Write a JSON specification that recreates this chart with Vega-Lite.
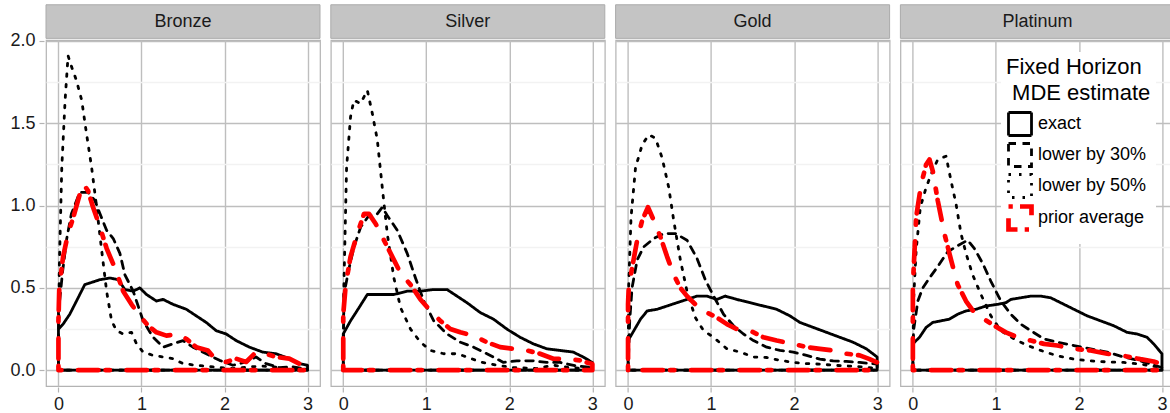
{
"$schema": "https://vega.github.io/schema/vega-lite/v6.json",
"padding": {"left": 9, "top": 3, "right": 0, "bottom": 0},
"autosize": {"type": "pad"},
"config": {
  "font": "Liberation Sans",
  "view": {"stroke": "#b3b3b3", "strokeWidth": 1.2},
  "axis": {"domain": false, "labelFontSize": 18, "labelColor": "#1a1a1a", "tickColor": "#b3b3b3", "tickSize": 5, "tickWidth": 1.2, "gridWidth": 1.4, "labelFont": "Liberation Sans"},
  "legend": {"orient": "none", "legendX": 955, "legendY": 12, "symbolType": "square", "symbolSize": 529, "labelFontSize": 18, "titleFontSize": 22, "titleFontWeight": "normal", "titleLineHeight": 26, "fillColor": "white", "padding": 5, "rowPadding": -10, "labelOffset": 4, "titleColor": "#000", "labelColor": "#000", "titlePadding": 6, "titleLimit": 300, "labelLimit": 300}
},
"data": {"values": [
{"p":"Bronze","s":"exact","i":0,"x":0,"y":0},{"p":"Bronze","s":"exact","i":1,"x":0,"y":0.25},{"p":"Bronze","s":"exact","i":2,"x":0.056,"y":0.28},{"p":"Bronze","s":"exact","i":3,"x":0.136,"y":0.34},{"p":"Bronze","s":"exact","i":4,"x":0.217,"y":0.42},{"p":"Bronze","s":"exact","i":5,"x":0.317,"y":0.52},{"p":"Bronze","s":"exact","i":6,"x":0.38,"y":0.53},{"p":"Bronze","s":"exact","i":7,"x":0.5,"y":0.55},{"p":"Bronze","s":"exact","i":8,"x":0.62,"y":0.56},{"p":"Bronze","s":"exact","i":9,"x":0.72,"y":0.55},{"p":"Bronze","s":"exact","i":10,"x":0.8,"y":0.49},{"p":"Bronze","s":"exact","i":11,"x":0.9,"y":0.48},{"p":"Bronze","s":"exact","i":12,"x":0.98,"y":0.5},{"p":"Bronze","s":"exact","i":13,"x":1.06,"y":0.46},{"p":"Bronze","s":"exact","i":14,"x":1.18,"y":0.42},{"p":"Bronze","s":"exact","i":15,"x":1.26,"y":0.43},{"p":"Bronze","s":"exact","i":16,"x":1.38,"y":0.4},{"p":"Bronze","s":"exact","i":17,"x":1.54,"y":0.37},{"p":"Bronze","s":"exact","i":18,"x":1.66,"y":0.33},{"p":"Bronze","s":"exact","i":19,"x":1.78,"y":0.29},{"p":"Bronze","s":"exact","i":20,"x":1.9,"y":0.24},{"p":"Bronze","s":"exact","i":21,"x":2.02,"y":0.22},{"p":"Bronze","s":"exact","i":22,"x":2.14,"y":0.18},{"p":"Bronze","s":"exact","i":23,"x":2.3,"y":0.14},{"p":"Bronze","s":"exact","i":24,"x":2.46,"y":0.11},{"p":"Bronze","s":"exact","i":25,"x":2.62,"y":0.1},{"p":"Bronze","s":"exact","i":26,"x":2.78,"y":0.07},{"p":"Bronze","s":"exact","i":27,"x":2.9,"y":0.04},{"p":"Bronze","s":"exact","i":28,"x":3,"y":0.03},{"p":"Bronze","s":"exact","i":29,"x":3,"y":0},{"p":"Bronze","s":"exact","i":30,"x":0,"y":0},
{"p":"Bronze","s":"lower by 30%","i":0,"x":0,"y":0},{"p":"Bronze","s":"lower by 30%","i":1,"x":0,"y":0.35},{"p":"Bronze","s":"lower by 30%","i":2,"x":0.05,"y":0.6},{"p":"Bronze","s":"lower by 30%","i":3,"x":0.1,"y":0.8},{"p":"Bronze","s":"lower by 30%","i":4,"x":0.156,"y":0.95},{"p":"Bronze","s":"lower by 30%","i":5,"x":0.257,"y":1.08},{"p":"Bronze","s":"lower by 30%","i":6,"x":0.357,"y":1.08},{"p":"Bronze","s":"lower by 30%","i":7,"x":0.44,"y":1.03},{"p":"Bronze","s":"lower by 30%","i":8,"x":0.5,"y":0.95},{"p":"Bronze","s":"lower by 30%","i":9,"x":0.58,"y":0.85},{"p":"Bronze","s":"lower by 30%","i":10,"x":0.66,"y":0.8},{"p":"Bronze","s":"lower by 30%","i":11,"x":0.74,"y":0.71},{"p":"Bronze","s":"lower by 30%","i":12,"x":0.8,"y":0.58},{"p":"Bronze","s":"lower by 30%","i":13,"x":0.9,"y":0.48},{"p":"Bronze","s":"lower by 30%","i":14,"x":1.02,"y":0.3},{"p":"Bronze","s":"lower by 30%","i":15,"x":1.14,"y":0.2},{"p":"Bronze","s":"lower by 30%","i":16,"x":1.26,"y":0.14},{"p":"Bronze","s":"lower by 30%","i":17,"x":1.38,"y":0.16},{"p":"Bronze","s":"lower by 30%","i":18,"x":1.5,"y":0.18},{"p":"Bronze","s":"lower by 30%","i":19,"x":1.62,"y":0.14},{"p":"Bronze","s":"lower by 30%","i":20,"x":1.78,"y":0.1},{"p":"Bronze","s":"lower by 30%","i":21,"x":1.94,"y":0.06},{"p":"Bronze","s":"lower by 30%","i":22,"x":2.1,"y":0.03},{"p":"Bronze","s":"lower by 30%","i":23,"x":2.26,"y":0.05},{"p":"Bronze","s":"lower by 30%","i":24,"x":2.38,"y":0.08},{"p":"Bronze","s":"lower by 30%","i":25,"x":2.5,"y":0.04},{"p":"Bronze","s":"lower by 30%","i":26,"x":2.66,"y":0.016},{"p":"Bronze","s":"lower by 30%","i":27,"x":2.82,"y":0.02},{"p":"Bronze","s":"lower by 30%","i":28,"x":3,"y":0.006},{"p":"Bronze","s":"lower by 30%","i":29,"x":3,"y":0},{"p":"Bronze","s":"lower by 30%","i":30,"x":0,"y":0},
{"p":"Bronze","s":"lower by 50%","i":0,"x":0,"y":0},{"p":"Bronze","s":"lower by 50%","i":1,"x":0.01,"y":0.62},{"p":"Bronze","s":"lower by 50%","i":2,"x":0.04,"y":1.23},{"p":"Bronze","s":"lower by 50%","i":3,"x":0.08,"y":1.64},{"p":"Bronze","s":"lower by 50%","i":4,"x":0.116,"y":1.91},{"p":"Bronze","s":"lower by 50%","i":5,"x":0.16,"y":1.84},{"p":"Bronze","s":"lower by 50%","i":6,"x":0.217,"y":1.76},{"p":"Bronze","s":"lower by 50%","i":7,"x":0.28,"y":1.64},{"p":"Bronze","s":"lower by 50%","i":8,"x":0.337,"y":1.44},{"p":"Bronze","s":"lower by 50%","i":9,"x":0.4,"y":1.23},{"p":"Bronze","s":"lower by 50%","i":10,"x":0.46,"y":0.99},{"p":"Bronze","s":"lower by 50%","i":11,"x":0.52,"y":0.73},{"p":"Bronze","s":"lower by 50%","i":12,"x":0.58,"y":0.48},{"p":"Bronze","s":"lower by 50%","i":13,"x":0.64,"y":0.3},{"p":"Bronze","s":"lower by 50%","i":14,"x":0.7,"y":0.24},{"p":"Bronze","s":"lower by 50%","i":15,"x":0.78,"y":0.22},{"p":"Bronze","s":"lower by 50%","i":16,"x":0.88,"y":0.23},{"p":"Bronze","s":"lower by 50%","i":17,"x":0.94,"y":0.16},{"p":"Bronze","s":"lower by 50%","i":18,"x":1.02,"y":0.11},{"p":"Bronze","s":"lower by 50%","i":19,"x":1.14,"y":0.09},{"p":"Bronze","s":"lower by 50%","i":20,"x":1.26,"y":0.08},{"p":"Bronze","s":"lower by 50%","i":21,"x":1.38,"y":0.07},{"p":"Bronze","s":"lower by 50%","i":22,"x":1.5,"y":0.04},{"p":"Bronze","s":"lower by 50%","i":23,"x":1.66,"y":0.03},{"p":"Bronze","s":"lower by 50%","i":24,"x":1.86,"y":0.02},{"p":"Bronze","s":"lower by 50%","i":25,"x":2.1,"y":0.01},{"p":"Bronze","s":"lower by 50%","i":26,"x":2.3,"y":0.02},{"p":"Bronze","s":"lower by 50%","i":27,"x":2.45,"y":0.025},{"p":"Bronze","s":"lower by 50%","i":28,"x":2.7,"y":0.016},{"p":"Bronze","s":"lower by 50%","i":29,"x":3,"y":0.005},{"p":"Bronze","s":"lower by 50%","i":30,"x":3,"y":0},{"p":"Bronze","s":"lower by 50%","i":31,"x":0,"y":0},
{"p":"Bronze","s":"prior average","i":0,"x":0,"y":0},{"p":"Bronze","s":"prior average","i":1,"x":0,"y":0.3},{"p":"Bronze","s":"prior average","i":2,"x":0.01,"y":0.5},{"p":"Bronze","s":"prior average","i":3,"x":0.056,"y":0.69},{"p":"Bronze","s":"prior average","i":4,"x":0.116,"y":0.83},{"p":"Bronze","s":"prior average","i":5,"x":0.18,"y":0.93},{"p":"Bronze","s":"prior average","i":6,"x":0.257,"y":1.07},{"p":"Bronze","s":"prior average","i":7,"x":0.3,"y":1.13},{"p":"Bronze","s":"prior average","i":8,"x":0.357,"y":1.09},{"p":"Bronze","s":"prior average","i":9,"x":0.417,"y":0.99},{"p":"Bronze","s":"prior average","i":10,"x":0.5,"y":0.87},{"p":"Bronze","s":"prior average","i":11,"x":0.58,"y":0.74},{"p":"Bronze","s":"prior average","i":12,"x":0.68,"y":0.62},{"p":"Bronze","s":"prior average","i":13,"x":0.78,"y":0.48},{"p":"Bronze","s":"prior average","i":14,"x":0.88,"y":0.4},{"p":"Bronze","s":"prior average","i":15,"x":0.98,"y":0.33},{"p":"Bronze","s":"prior average","i":16,"x":1.08,"y":0.27},{"p":"Bronze","s":"prior average","i":17,"x":1.18,"y":0.23},{"p":"Bronze","s":"prior average","i":18,"x":1.3,"y":0.21},{"p":"Bronze","s":"prior average","i":19,"x":1.44,"y":0.22},{"p":"Bronze","s":"prior average","i":20,"x":1.54,"y":0.19},{"p":"Bronze","s":"prior average","i":21,"x":1.66,"y":0.14},{"p":"Bronze","s":"prior average","i":22,"x":1.8,"y":0.12},{"p":"Bronze","s":"prior average","i":23,"x":1.9,"y":0.06},{"p":"Bronze","s":"prior average","i":24,"x":2.02,"y":0.05},{"p":"Bronze","s":"prior average","i":25,"x":2.14,"y":0.07},{"p":"Bronze","s":"prior average","i":26,"x":2.26,"y":0.05},{"p":"Bronze","s":"prior average","i":27,"x":2.38,"y":0.11},{"p":"Bronze","s":"prior average","i":28,"x":2.5,"y":0.1},{"p":"Bronze","s":"prior average","i":29,"x":2.62,"y":0.08},{"p":"Bronze","s":"prior average","i":30,"x":2.78,"y":0.07},{"p":"Bronze","s":"prior average","i":31,"x":2.9,"y":0.04},{"p":"Bronze","s":"prior average","i":32,"x":3,"y":0.026},{"p":"Bronze","s":"prior average","i":33,"x":3,"y":0},{"p":"Bronze","s":"prior average","i":34,"x":0,"y":0},
{"p":"Silver","s":"exact","i":0,"x":0,"y":0},{"p":"Silver","s":"exact","i":1,"x":0,"y":0.22},{"p":"Silver","s":"exact","i":2,"x":0.088,"y":0.3},{"p":"Silver","s":"exact","i":3,"x":0.19,"y":0.38},{"p":"Silver","s":"exact","i":4,"x":0.29,"y":0.46},{"p":"Silver","s":"exact","i":5,"x":0.45,"y":0.46},{"p":"Silver","s":"exact","i":6,"x":0.61,"y":0.46},{"p":"Silver","s":"exact","i":7,"x":0.77,"y":0.48},{"p":"Silver","s":"exact","i":8,"x":0.93,"y":0.48},{"p":"Silver","s":"exact","i":9,"x":1.09,"y":0.49},{"p":"Silver","s":"exact","i":10,"x":1.25,"y":0.49},{"p":"Silver","s":"exact","i":11,"x":1.37,"y":0.45},{"p":"Silver","s":"exact","i":12,"x":1.49,"y":0.41},{"p":"Silver","s":"exact","i":13,"x":1.65,"y":0.35},{"p":"Silver","s":"exact","i":14,"x":1.81,"y":0.31},{"p":"Silver","s":"exact","i":15,"x":1.97,"y":0.25},{"p":"Silver","s":"exact","i":16,"x":2.13,"y":0.2},{"p":"Silver","s":"exact","i":17,"x":2.29,"y":0.16},{"p":"Silver","s":"exact","i":18,"x":2.45,"y":0.13},{"p":"Silver","s":"exact","i":19,"x":2.61,"y":0.12},{"p":"Silver","s":"exact","i":20,"x":2.77,"y":0.11},{"p":"Silver","s":"exact","i":21,"x":2.89,"y":0.08},{"p":"Silver","s":"exact","i":22,"x":3,"y":0.047},{"p":"Silver","s":"exact","i":23,"x":3,"y":0},{"p":"Silver","s":"exact","i":24,"x":0,"y":0},
{"p":"Silver","s":"lower by 30%","i":0,"x":0,"y":0},{"p":"Silver","s":"lower by 30%","i":1,"x":0.008,"y":0.46},{"p":"Silver","s":"lower by 30%","i":2,"x":0.07,"y":0.62},{"p":"Silver","s":"lower by 30%","i":3,"x":0.13,"y":0.75},{"p":"Silver","s":"lower by 30%","i":4,"x":0.21,"y":0.87},{"p":"Silver","s":"lower by 30%","i":5,"x":0.31,"y":0.94},{"p":"Silver","s":"lower by 30%","i":6,"x":0.41,"y":0.95},{"p":"Silver","s":"lower by 30%","i":7,"x":0.47,"y":0.99},{"p":"Silver","s":"lower by 30%","i":8,"x":0.53,"y":0.94},{"p":"Silver","s":"lower by 30%","i":9,"x":0.65,"y":0.85},{"p":"Silver","s":"lower by 30%","i":10,"x":0.77,"y":0.71},{"p":"Silver","s":"lower by 30%","i":11,"x":0.87,"y":0.56},{"p":"Silver","s":"lower by 30%","i":12,"x":0.97,"y":0.42},{"p":"Silver","s":"lower by 30%","i":13,"x":1.09,"y":0.3},{"p":"Silver","s":"lower by 30%","i":14,"x":1.25,"y":0.22},{"p":"Silver","s":"lower by 30%","i":15,"x":1.41,"y":0.17},{"p":"Silver","s":"lower by 30%","i":16,"x":1.57,"y":0.14},{"p":"Silver","s":"lower by 30%","i":17,"x":1.73,"y":0.1},{"p":"Silver","s":"lower by 30%","i":18,"x":1.93,"y":0.047},{"p":"Silver","s":"lower by 30%","i":19,"x":2.09,"y":0.057},{"p":"Silver","s":"lower by 30%","i":20,"x":2.29,"y":0.057},{"p":"Silver","s":"lower by 30%","i":21,"x":2.45,"y":0.047},{"p":"Silver","s":"lower by 30%","i":22,"x":2.61,"y":0.047},{"p":"Silver","s":"lower by 30%","i":23,"x":2.81,"y":0.026},{"p":"Silver","s":"lower by 30%","i":24,"x":3,"y":0.016},{"p":"Silver","s":"lower by 30%","i":25,"x":3,"y":0},{"p":"Silver","s":"lower by 30%","i":26,"x":0,"y":0},
{"p":"Silver","s":"lower by 50%","i":0,"x":0,"y":0},{"p":"Silver","s":"lower by 50%","i":1,"x":0.008,"y":0.52},{"p":"Silver","s":"lower by 50%","i":2,"x":0.04,"y":1.23},{"p":"Silver","s":"lower by 50%","i":3,"x":0.088,"y":1.54},{"p":"Silver","s":"lower by 50%","i":4,"x":0.128,"y":1.64},{"p":"Silver","s":"lower by 50%","i":5,"x":0.208,"y":1.62},{"p":"Silver","s":"lower by 50%","i":6,"x":0.29,"y":1.7},{"p":"Silver","s":"lower by 50%","i":7,"x":0.35,"y":1.56},{"p":"Silver","s":"lower by 50%","i":8,"x":0.41,"y":1.4},{"p":"Silver","s":"lower by 50%","i":9,"x":0.47,"y":1.11},{"p":"Silver","s":"lower by 50%","i":10,"x":0.53,"y":0.83},{"p":"Silver","s":"lower by 50%","i":11,"x":0.61,"y":0.56},{"p":"Silver","s":"lower by 50%","i":12,"x":0.69,"y":0.38},{"p":"Silver","s":"lower by 50%","i":13,"x":0.81,"y":0.25},{"p":"Silver","s":"lower by 50%","i":14,"x":0.93,"y":0.17},{"p":"Silver","s":"lower by 50%","i":15,"x":1.05,"y":0.12},{"p":"Silver","s":"lower by 50%","i":16,"x":1.21,"y":0.1},{"p":"Silver","s":"lower by 50%","i":17,"x":1.37,"y":0.1},{"p":"Silver","s":"lower by 50%","i":18,"x":1.49,"y":0.08},{"p":"Silver","s":"lower by 50%","i":19,"x":1.65,"y":0.05},{"p":"Silver","s":"lower by 50%","i":20,"x":1.85,"y":0.03},{"p":"Silver","s":"lower by 50%","i":21,"x":2.05,"y":0.016},{"p":"Silver","s":"lower by 50%","i":22,"x":2.33,"y":0.01},{"p":"Silver","s":"lower by 50%","i":23,"x":2.53,"y":0.03},{"p":"Silver","s":"lower by 50%","i":24,"x":2.73,"y":0.016},{"p":"Silver","s":"lower by 50%","i":25,"x":3,"y":0.006},{"p":"Silver","s":"lower by 50%","i":26,"x":3,"y":0},{"p":"Silver","s":"lower by 50%","i":27,"x":0,"y":0},
{"p":"Silver","s":"prior average","i":0,"x":0,"y":0},{"p":"Silver","s":"prior average","i":1,"x":0,"y":0.34},{"p":"Silver","s":"prior average","i":2,"x":0.03,"y":0.52},{"p":"Silver","s":"prior average","i":3,"x":0.088,"y":0.69},{"p":"Silver","s":"prior average","i":4,"x":0.17,"y":0.83},{"p":"Silver","s":"prior average","i":5,"x":0.25,"y":0.95},{"p":"Silver","s":"prior average","i":6,"x":0.31,"y":0.95},{"p":"Silver","s":"prior average","i":7,"x":0.39,"y":0.89},{"p":"Silver","s":"prior average","i":8,"x":0.49,"y":0.79},{"p":"Silver","s":"prior average","i":9,"x":0.59,"y":0.69},{"p":"Silver","s":"prior average","i":10,"x":0.69,"y":0.59},{"p":"Silver","s":"prior average","i":11,"x":0.81,"y":0.52},{"p":"Silver","s":"prior average","i":12,"x":0.93,"y":0.43},{"p":"Silver","s":"prior average","i":13,"x":1.05,"y":0.36},{"p":"Silver","s":"prior average","i":14,"x":1.17,"y":0.3},{"p":"Silver","s":"prior average","i":15,"x":1.29,"y":0.25},{"p":"Silver","s":"prior average","i":16,"x":1.41,"y":0.23},{"p":"Silver","s":"prior average","i":17,"x":1.57,"y":0.21},{"p":"Silver","s":"prior average","i":18,"x":1.73,"y":0.17},{"p":"Silver","s":"prior average","i":19,"x":1.89,"y":0.14},{"p":"Silver","s":"prior average","i":20,"x":2.05,"y":0.13},{"p":"Silver","s":"prior average","i":21,"x":2.21,"y":0.12},{"p":"Silver","s":"prior average","i":22,"x":2.37,"y":0.1},{"p":"Silver","s":"prior average","i":23,"x":2.53,"y":0.07},{"p":"Silver","s":"prior average","i":24,"x":2.69,"y":0.067},{"p":"Silver","s":"prior average","i":25,"x":2.85,"y":0.06},{"p":"Silver","s":"prior average","i":26,"x":3,"y":0.037},{"p":"Silver","s":"prior average","i":27,"x":3,"y":0},{"p":"Silver","s":"prior average","i":28,"x":0,"y":0},
{"p":"Gold","s":"exact","i":0,"x":0,"y":0},{"p":"Gold","s":"exact","i":1,"x":0,"y":0.18},{"p":"Gold","s":"exact","i":2,"x":0.07,"y":0.24},{"p":"Gold","s":"exact","i":3,"x":0.15,"y":0.31},{"p":"Gold","s":"exact","i":4,"x":0.23,"y":0.36},{"p":"Gold","s":"exact","i":5,"x":0.35,"y":0.37},{"p":"Gold","s":"exact","i":6,"x":0.47,"y":0.39},{"p":"Gold","s":"exact","i":7,"x":0.59,"y":0.41},{"p":"Gold","s":"exact","i":8,"x":0.71,"y":0.43},{"p":"Gold","s":"exact","i":9,"x":0.83,"y":0.45},{"p":"Gold","s":"exact","i":10,"x":0.95,"y":0.45},{"p":"Gold","s":"exact","i":11,"x":1.07,"y":0.43},{"p":"Gold","s":"exact","i":12,"x":1.17,"y":0.45},{"p":"Gold","s":"exact","i":13,"x":1.31,"y":0.43},{"p":"Gold","s":"exact","i":14,"x":1.47,"y":0.41},{"p":"Gold","s":"exact","i":15,"x":1.63,"y":0.39},{"p":"Gold","s":"exact","i":16,"x":1.79,"y":0.37},{"p":"Gold","s":"exact","i":17,"x":1.95,"y":0.33},{"p":"Gold","s":"exact","i":18,"x":2.07,"y":0.29},{"p":"Gold","s":"exact","i":19,"x":2.23,"y":0.26},{"p":"Gold","s":"exact","i":20,"x":2.39,"y":0.23},{"p":"Gold","s":"exact","i":21,"x":2.55,"y":0.2},{"p":"Gold","s":"exact","i":22,"x":2.71,"y":0.17},{"p":"Gold","s":"exact","i":23,"x":2.87,"y":0.13},{"p":"Gold","s":"exact","i":24,"x":3,"y":0.08},{"p":"Gold","s":"exact","i":25,"x":3,"y":0},{"p":"Gold","s":"exact","i":26,"x":0,"y":0},
{"p":"Gold","s":"lower by 30%","i":0,"x":0,"y":0},{"p":"Gold","s":"lower by 30%","i":1,"x":0.02,"y":0.3},{"p":"Gold","s":"lower by 30%","i":2,"x":0.048,"y":0.5},{"p":"Gold","s":"lower by 30%","i":3,"x":0.11,"y":0.67},{"p":"Gold","s":"lower by 30%","i":4,"x":0.19,"y":0.75},{"p":"Gold","s":"lower by 30%","i":5,"x":0.31,"y":0.8},{"p":"Gold","s":"lower by 30%","i":6,"x":0.43,"y":0.83},{"p":"Gold","s":"lower by 30%","i":7,"x":0.57,"y":0.83},{"p":"Gold","s":"lower by 30%","i":8,"x":0.71,"y":0.79},{"p":"Gold","s":"lower by 30%","i":9,"x":0.83,"y":0.68},{"p":"Gold","s":"lower by 30%","i":10,"x":0.93,"y":0.55},{"p":"Gold","s":"lower by 30%","i":11,"x":1.03,"y":0.45},{"p":"Gold","s":"lower by 30%","i":12,"x":1.15,"y":0.34},{"p":"Gold","s":"lower by 30%","i":13,"x":1.27,"y":0.27},{"p":"Gold","s":"lower by 30%","i":14,"x":1.39,"y":0.22},{"p":"Gold","s":"lower by 30%","i":15,"x":1.51,"y":0.18},{"p":"Gold","s":"lower by 30%","i":16,"x":1.67,"y":0.14},{"p":"Gold","s":"lower by 30%","i":17,"x":1.83,"y":0.12},{"p":"Gold","s":"lower by 30%","i":18,"x":1.99,"y":0.11},{"p":"Gold","s":"lower by 30%","i":19,"x":2.15,"y":0.09},{"p":"Gold","s":"lower by 30%","i":20,"x":2.31,"y":0.067},{"p":"Gold","s":"lower by 30%","i":21,"x":2.47,"y":0.057},{"p":"Gold","s":"lower by 30%","i":22,"x":2.63,"y":0.053},{"p":"Gold","s":"lower by 30%","i":23,"x":2.79,"y":0.047},{"p":"Gold","s":"lower by 30%","i":24,"x":3,"y":0.037},{"p":"Gold","s":"lower by 30%","i":25,"x":3,"y":0},{"p":"Gold","s":"lower by 30%","i":26,"x":0,"y":0},
{"p":"Gold","s":"lower by 50%","i":0,"x":0,"y":0},{"p":"Gold","s":"lower by 50%","i":1,"x":0.008,"y":0.52},{"p":"Gold","s":"lower by 50%","i":2,"x":0.036,"y":0.93},{"p":"Gold","s":"lower by 50%","i":3,"x":0.09,"y":1.23},{"p":"Gold","s":"lower by 50%","i":4,"x":0.17,"y":1.37},{"p":"Gold","s":"lower by 50%","i":5,"x":0.25,"y":1.43},{"p":"Gold","s":"lower by 50%","i":6,"x":0.33,"y":1.41},{"p":"Gold","s":"lower by 50%","i":7,"x":0.41,"y":1.29},{"p":"Gold","s":"lower by 50%","i":8,"x":0.49,"y":1.11},{"p":"Gold","s":"lower by 50%","i":9,"x":0.55,"y":0.91},{"p":"Gold","s":"lower by 50%","i":10,"x":0.63,"y":0.67},{"p":"Gold","s":"lower by 50%","i":11,"x":0.71,"y":0.48},{"p":"Gold","s":"lower by 50%","i":12,"x":0.81,"y":0.32},{"p":"Gold","s":"lower by 50%","i":13,"x":0.91,"y":0.24},{"p":"Gold","s":"lower by 50%","i":14,"x":1.03,"y":0.2},{"p":"Gold","s":"lower by 50%","i":15,"x":1.19,"y":0.13},{"p":"Gold","s":"lower by 50%","i":16,"x":1.35,"y":0.11},{"p":"Gold","s":"lower by 50%","i":17,"x":1.51,"y":0.08},{"p":"Gold","s":"lower by 50%","i":18,"x":1.67,"y":0.077},{"p":"Gold","s":"lower by 50%","i":19,"x":1.83,"y":0.06},{"p":"Gold","s":"lower by 50%","i":20,"x":1.99,"y":0.047},{"p":"Gold","s":"lower by 50%","i":21,"x":2.15,"y":0.04},{"p":"Gold","s":"lower by 50%","i":22,"x":2.31,"y":0.037},{"p":"Gold","s":"lower by 50%","i":23,"x":2.47,"y":0.03},{"p":"Gold","s":"lower by 50%","i":24,"x":2.63,"y":0.026},{"p":"Gold","s":"lower by 50%","i":25,"x":2.83,"y":0.02},{"p":"Gold","s":"lower by 50%","i":26,"x":3,"y":0.01},{"p":"Gold","s":"lower by 50%","i":27,"x":3,"y":0},{"p":"Gold","s":"lower by 50%","i":28,"x":0,"y":0},
{"p":"Gold","s":"prior average","i":0,"x":0,"y":0},{"p":"Gold","s":"prior average","i":1,"x":0,"y":0.4},{"p":"Gold","s":"prior average","i":2,"x":0.008,"y":0.5},{"p":"Gold","s":"prior average","i":3,"x":0.048,"y":0.62},{"p":"Gold","s":"prior average","i":4,"x":0.11,"y":0.79},{"p":"Gold","s":"prior average","i":5,"x":0.17,"y":0.91},{"p":"Gold","s":"prior average","i":6,"x":0.24,"y":0.99},{"p":"Gold","s":"prior average","i":7,"x":0.31,"y":0.91},{"p":"Gold","s":"prior average","i":8,"x":0.39,"y":0.81},{"p":"Gold","s":"prior average","i":9,"x":0.47,"y":0.69},{"p":"Gold","s":"prior average","i":10,"x":0.55,"y":0.58},{"p":"Gold","s":"prior average","i":11,"x":0.63,"y":0.5},{"p":"Gold","s":"prior average","i":12,"x":0.71,"y":0.45},{"p":"Gold","s":"prior average","i":13,"x":0.83,"y":0.39},{"p":"Gold","s":"prior average","i":14,"x":0.95,"y":0.35},{"p":"Gold","s":"prior average","i":15,"x":1.07,"y":0.32},{"p":"Gold","s":"prior average","i":16,"x":1.19,"y":0.28},{"p":"Gold","s":"prior average","i":17,"x":1.31,"y":0.25},{"p":"Gold","s":"prior average","i":18,"x":1.47,"y":0.24},{"p":"Gold","s":"prior average","i":19,"x":1.63,"y":0.2},{"p":"Gold","s":"prior average","i":20,"x":1.79,"y":0.18},{"p":"Gold","s":"prior average","i":21,"x":1.99,"y":0.16},{"p":"Gold","s":"prior average","i":22,"x":2.15,"y":0.14},{"p":"Gold","s":"prior average","i":23,"x":2.31,"y":0.13},{"p":"Gold","s":"prior average","i":24,"x":2.47,"y":0.12},{"p":"Gold","s":"prior average","i":25,"x":2.63,"y":0.1},{"p":"Gold","s":"prior average","i":26,"x":2.79,"y":0.09},{"p":"Gold","s":"prior average","i":27,"x":2.91,"y":0.067},{"p":"Gold","s":"prior average","i":28,"x":3,"y":0.047},{"p":"Gold","s":"prior average","i":29,"x":3,"y":0},{"p":"Gold","s":"prior average","i":30,"x":0,"y":0},
{"p":"Platinum","s":"exact","i":0,"x":0,"y":0},{"p":"Platinum","s":"exact","i":1,"x":0,"y":0.16},{"p":"Platinum","s":"exact","i":2,"x":0.08,"y":0.2},{"p":"Platinum","s":"exact","i":3,"x":0.16,"y":0.26},{"p":"Platinum","s":"exact","i":4,"x":0.24,"y":0.29},{"p":"Platinum","s":"exact","i":5,"x":0.34,"y":0.3},{"p":"Platinum","s":"exact","i":6,"x":0.44,"y":0.31},{"p":"Platinum","s":"exact","i":7,"x":0.54,"y":0.34},{"p":"Platinum","s":"exact","i":8,"x":0.64,"y":0.36},{"p":"Platinum","s":"exact","i":9,"x":0.76,"y":0.37},{"p":"Platinum","s":"exact","i":10,"x":0.88,"y":0.39},{"p":"Platinum","s":"exact","i":11,"x":1.02,"y":0.4},{"p":"Platinum","s":"exact","i":12,"x":1.12,"y":0.41},{"p":"Platinum","s":"exact","i":13,"x":1.18,"y":0.43},{"p":"Platinum","s":"exact","i":14,"x":1.3,"y":0.44},{"p":"Platinum","s":"exact","i":15,"x":1.42,"y":0.45},{"p":"Platinum","s":"exact","i":16,"x":1.54,"y":0.45},{"p":"Platinum","s":"exact","i":17,"x":1.66,"y":0.44},{"p":"Platinum","s":"exact","i":18,"x":1.78,"y":0.41},{"p":"Platinum","s":"exact","i":19,"x":1.94,"y":0.37},{"p":"Platinum","s":"exact","i":20,"x":2.1,"y":0.33},{"p":"Platinum","s":"exact","i":21,"x":2.26,"y":0.3},{"p":"Platinum","s":"exact","i":22,"x":2.42,"y":0.27},{"p":"Platinum","s":"exact","i":23,"x":2.58,"y":0.23},{"p":"Platinum","s":"exact","i":24,"x":2.7,"y":0.22},{"p":"Platinum","s":"exact","i":25,"x":2.82,"y":0.2},{"p":"Platinum","s":"exact","i":26,"x":2.9,"y":0.16},{"p":"Platinum","s":"exact","i":27,"x":3,"y":0.1},{"p":"Platinum","s":"exact","i":28,"x":3,"y":0},{"p":"Platinum","s":"exact","i":29,"x":0,"y":0},
{"p":"Platinum","s":"lower by 30%","i":0,"x":0,"y":0},{"p":"Platinum","s":"lower by 30%","i":1,"x":0.008,"y":0.24},{"p":"Platinum","s":"lower by 30%","i":2,"x":0.06,"y":0.42},{"p":"Platinum","s":"lower by 30%","i":3,"x":0.12,"y":0.5},{"p":"Platinum","s":"lower by 30%","i":4,"x":0.2,"y":0.56},{"p":"Platinum","s":"lower by 30%","i":5,"x":0.3,"y":0.63},{"p":"Platinum","s":"lower by 30%","i":6,"x":0.42,"y":0.72},{"p":"Platinum","s":"lower by 30%","i":7,"x":0.52,"y":0.75},{"p":"Platinum","s":"lower by 30%","i":8,"x":0.66,"y":0.79},{"p":"Platinum","s":"lower by 30%","i":9,"x":0.74,"y":0.74},{"p":"Platinum","s":"lower by 30%","i":10,"x":0.84,"y":0.65},{"p":"Platinum","s":"lower by 30%","i":11,"x":0.94,"y":0.54},{"p":"Platinum","s":"lower by 30%","i":12,"x":1.06,"y":0.42},{"p":"Platinum","s":"lower by 30%","i":13,"x":1.18,"y":0.34},{"p":"Platinum","s":"lower by 30%","i":14,"x":1.3,"y":0.28},{"p":"Platinum","s":"lower by 30%","i":15,"x":1.42,"y":0.24},{"p":"Platinum","s":"lower by 30%","i":16,"x":1.58,"y":0.19},{"p":"Platinum","s":"lower by 30%","i":17,"x":1.74,"y":0.17},{"p":"Platinum","s":"lower by 30%","i":18,"x":1.94,"y":0.15},{"p":"Platinum","s":"lower by 30%","i":19,"x":2.14,"y":0.13},{"p":"Platinum","s":"lower by 30%","i":20,"x":2.34,"y":0.11},{"p":"Platinum","s":"lower by 30%","i":21,"x":2.54,"y":0.08},{"p":"Platinum","s":"lower by 30%","i":22,"x":2.74,"y":0.057},{"p":"Platinum","s":"lower by 30%","i":23,"x":3,"y":0.016},{"p":"Platinum","s":"lower by 30%","i":24,"x":3,"y":0},{"p":"Platinum","s":"lower by 30%","i":25,"x":0,"y":0},
{"p":"Platinum","s":"lower by 50%","i":0,"x":0,"y":0},{"p":"Platinum","s":"lower by 50%","i":1,"x":0.008,"y":0.42},{"p":"Platinum","s":"lower by 50%","i":2,"x":0.04,"y":0.73},{"p":"Platinum","s":"lower by 50%","i":3,"x":0.09,"y":0.99},{"p":"Platinum","s":"lower by 50%","i":4,"x":0.16,"y":1.11},{"p":"Platinum","s":"lower by 50%","i":5,"x":0.22,"y":1.19},{"p":"Platinum","s":"lower by 50%","i":6,"x":0.3,"y":1.28},{"p":"Platinum","s":"lower by 50%","i":7,"x":0.4,"y":1.3},{"p":"Platinum","s":"lower by 50%","i":8,"x":0.46,"y":1.15},{"p":"Platinum","s":"lower by 50%","i":9,"x":0.52,"y":1.01},{"p":"Platinum","s":"lower by 50%","i":10,"x":0.58,"y":0.83},{"p":"Platinum","s":"lower by 50%","i":11,"x":0.64,"y":0.71},{"p":"Platinum","s":"lower by 50%","i":12,"x":0.72,"y":0.58},{"p":"Platinum","s":"lower by 50%","i":13,"x":0.82,"y":0.46},{"p":"Platinum","s":"lower by 50%","i":14,"x":0.94,"y":0.33},{"p":"Platinum","s":"lower by 50%","i":15,"x":1.06,"y":0.24},{"p":"Platinum","s":"lower by 50%","i":16,"x":1.22,"y":0.19},{"p":"Platinum","s":"lower by 50%","i":17,"x":1.38,"y":0.15},{"p":"Platinum","s":"lower by 50%","i":18,"x":1.54,"y":0.12},{"p":"Platinum","s":"lower by 50%","i":19,"x":1.74,"y":0.087},{"p":"Platinum","s":"lower by 50%","i":20,"x":1.94,"y":0.067},{"p":"Platinum","s":"lower by 50%","i":21,"x":2.14,"y":0.057},{"p":"Platinum","s":"lower by 50%","i":22,"x":2.34,"y":0.05},{"p":"Platinum","s":"lower by 50%","i":23,"x":2.54,"y":0.047},{"p":"Platinum","s":"lower by 50%","i":24,"x":2.74,"y":0.037},{"p":"Platinum","s":"lower by 50%","i":25,"x":3,"y":0.016},{"p":"Platinum","s":"lower by 50%","i":26,"x":3,"y":0},{"p":"Platinum","s":"lower by 50%","i":27,"x":0,"y":0},
{"p":"Platinum","s":"prior average","i":0,"x":0,"y":0},{"p":"Platinum","s":"prior average","i":1,"x":0,"y":0.5},{"p":"Platinum","s":"prior average","i":2,"x":0.01,"y":0.62},{"p":"Platinum","s":"prior average","i":3,"x":0.04,"y":0.93},{"p":"Platinum","s":"prior average","i":4,"x":0.1,"y":1.13},{"p":"Platinum","s":"prior average","i":5,"x":0.16,"y":1.25},{"p":"Platinum","s":"prior average","i":6,"x":0.2,"y":1.28},{"p":"Platinum","s":"prior average","i":7,"x":0.24,"y":1.21},{"p":"Platinum","s":"prior average","i":8,"x":0.3,"y":1.03},{"p":"Platinum","s":"prior average","i":9,"x":0.38,"y":0.83},{"p":"Platinum","s":"prior average","i":10,"x":0.46,"y":0.67},{"p":"Platinum","s":"prior average","i":11,"x":0.54,"y":0.52},{"p":"Platinum","s":"prior average","i":12,"x":0.64,"y":0.42},{"p":"Platinum","s":"prior average","i":13,"x":0.74,"y":0.35},{"p":"Platinum","s":"prior average","i":14,"x":0.86,"y":0.31},{"p":"Platinum","s":"prior average","i":15,"x":0.98,"y":0.27},{"p":"Platinum","s":"prior average","i":16,"x":1.12,"y":0.23},{"p":"Platinum","s":"prior average","i":17,"x":1.26,"y":0.2},{"p":"Platinum","s":"prior average","i":18,"x":1.42,"y":0.18},{"p":"Platinum","s":"prior average","i":19,"x":1.58,"y":0.16},{"p":"Platinum","s":"prior average","i":20,"x":1.74,"y":0.15},{"p":"Platinum","s":"prior average","i":21,"x":1.94,"y":0.13},{"p":"Platinum","s":"prior average","i":22,"x":2.14,"y":0.12},{"p":"Platinum","s":"prior average","i":23,"x":2.34,"y":0.1},{"p":"Platinum","s":"prior average","i":24,"x":2.54,"y":0.087},{"p":"Platinum","s":"prior average","i":25,"x":2.74,"y":0.067},{"p":"Platinum","s":"prior average","i":26,"x":2.9,"y":0.053},{"p":"Platinum","s":"prior average","i":27,"x":3,"y":0.037},{"p":"Platinum","s":"prior average","i":28,"x":3,"y":0},{"p":"Platinum","s":"prior average","i":29,"x":0,"y":0}
]},
"facet": {"column": {"field": "p", "type": "nominal", "sort": ["Bronze", "Silver", "Gold", "Platinum"], "header": {"labels": false, "title": null}}},
"spacing": 6.8,
"spec": {
  "width": 274,
  "height": 346,
  "encoding": {
    "x": {"field": "x", "type": "quantitative", "title": null, "scale": {"domain": [-0.15, 3.15], "nice": false, "zero": false},
      "axis": {"values": [0, 0.5, 1, 1.5, 2, 2.5, 3], "format": "d", "labelExpr": "datum.value % 1 === 0 ? datum.label : ''", "labelPadding": 3,
        "gridColor": {"condition": {"test": "datum.value % 1 !== 0", "value": "#f2f2f2"}, "value": "#bebebe"},
        "tickOpacity": {"condition": {"test": "datum.value % 1 !== 0", "value": 0}, "value": 1}}},
    "y": {"field": "y", "type": "quantitative", "title": null, "scale": {"domain": [-0.096, 2.006], "nice": false, "zero": false},
      "axis": {"values": [0, 0.25, 0.5, 0.75, 1, 1.25, 1.5, 1.75, 2], "format": ".1f", "labelExpr": "(datum.value * 2) % 1 === 0 ? datum.label : ''", "labelPadding": 4,
        "gridColor": {"condition": {"test": "(datum.value * 2) % 1 !== 0", "value": "#f2f2f2"}, "value": "#bebebe"},
        "tickOpacity": {"condition": {"test": "(datum.value * 2) % 1 !== 0", "value": 0}, "value": 1}}}
  },
  "layer": [
    {"transform": [{"filter": "datum.i == 0 && datum.s == 'exact'"}],
     "mark": {"type": "rect", "clip": false, "fill": "#c4c4c4", "stroke": "#ababab", "strokeWidth": 1},
     "encoding": {"x": {"datum": -0.15}, "x2": {"datum": 3.15}, "y": {"datum": 2.016}, "y2": {"datum": 2.22}}},
    {"transform": [{"filter": "datum.i == 0 && datum.s == 'exact'"}],
     "mark": {"type": "text", "clip": false, "fontSize": 18, "color": "#1a1a1a", "baseline": "middle", "align": "center"},
     "encoding": {"x": {"datum": 1.5}, "y": {"datum": 2.118}, "text": {"field": "p"}}},
    {"mark": {"type": "line", "strokeCap": "round", "strokeJoin": "round"},
     "encoding": {
       "order": {"field": "i", "type": "quantitative"},
       "color": {"field": "s", "type": "nominal", "title": ["Fixed Horizon", "\u200b\u00a0MDE estimate"], "scale": {"domain": ["exact", "lower by 30%", "lower by 50%", "prior average"], "range": ["#000000", "#000000", "#000000", "#ff0000"]}},
       "strokeDash": {"field": "s", "type": "nominal", "title": ["Fixed Horizon", "\u200b\u00a0MDE estimate"], "scale": {"domain": ["exact", "lower by 30%", "lower by 50%", "prior average"], "range": [[1, 0], [7.5, 6.5], [2.5, 8], [4.3, 7.2, 20.3, 16.7]]}},
       "strokeWidth": {"field": "s", "type": "nominal", "title": ["Fixed Horizon", "\u200b\u00a0MDE estimate"], "scale": {"type": "ordinal", "domain": ["exact", "lower by 30%", "lower by 50%", "prior average"], "range": [2.8, 2.8, 2.8, 4.7]}}
     }}
  ]
}
}
